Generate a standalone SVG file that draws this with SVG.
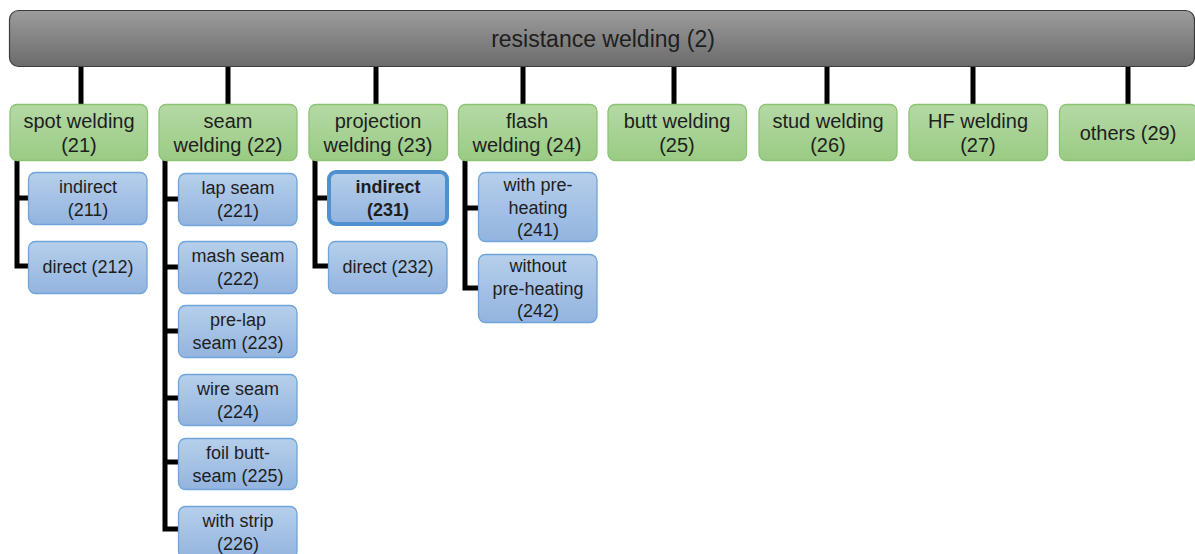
<svg xmlns="http://www.w3.org/2000/svg" width="1195" height="554" viewBox="0 0 1195 554">
<defs>
<linearGradient id="gRoot" x1="0" y1="0" x2="0" y2="1"><stop offset="0" stop-color="#9c9c9c"/><stop offset="1" stop-color="#6b6b6b"/></linearGradient>
<linearGradient id="gGreen" x1="0" y1="0" x2="0" y2="1"><stop offset="0" stop-color="#b5d9a5"/><stop offset="1" stop-color="#9acb84"/></linearGradient>
<linearGradient id="gBlue" x1="0" y1="0" x2="0" y2="1"><stop offset="0" stop-color="#b6cfeb"/><stop offset="1" stop-color="#93b4df"/></linearGradient>
</defs>
<style>
text{font-family:"Liberation Sans",Arial,sans-serif;fill:#1e1e1e;text-anchor:middle}
.root{fill:url(#gRoot);stroke:#3c3c3c;stroke-width:1.2}
.g{fill:url(#gGreen);stroke:#8cc476;stroke-width:1.3}
.b{fill:url(#gBlue);stroke:#6fa5d9;stroke-width:1.3}
.sel{fill:url(#gBlue);stroke:#4f91ce;stroke-width:4}
.tr{font-size:23px}
.tg{font-size:20px}
.tb{font-size:18px}
.bold{font-weight:bold}
.c{fill:none;stroke:#000;stroke-width:5;stroke-linejoin:miter}
</style>
<g id="connectors">
<path class="c" d="M81,67V104M228,67V104M376,67V104M523,67V104M674,67V104M827,67V104M973,67V104M1128,67V104"/>
<path class="c" d="M17,160V266H29M17,198H29"/>
<path class="c" d="M165,160V529H179M165,199H179M165,267H179M165,331H179M165,398H179M165,462H179"/>
<path class="c" d="M315,160V266H329M315,198H329"/>
<path class="c" d="M465,160V288H479M465,208H479"/>
</g>
<g id="n2"><rect class="root" x="9.5" y="10.5" width="1185" height="56" rx="9"/><text class="tr" x="603" y="47">resistance welding (2)</text></g>
<g id="n21"><rect class="g" x="10" y="104.5" width="137.5" height="56" rx="7"/><text class="tg" x="79" y="128">spot welding</text><text class="tg" x="79" y="152">(21)</text></g>
<g id="n22"><rect class="g" x="159" y="104.5" width="138" height="56" rx="7"/><text class="tg" x="228" y="128">seam</text><text class="tg" x="228" y="152">welding (22)</text></g>
<g id="n23"><rect class="g" x="309" y="104.5" width="138.5" height="56" rx="7"/><text class="tg" x="378" y="128">projection</text><text class="tg" x="378" y="152">welding (23)</text></g>
<g id="n24"><rect class="g" x="458.5" y="104.5" width="138.5" height="56" rx="7"/><text class="tg" x="527" y="128">flash</text><text class="tg" x="527" y="152">welding (24)</text></g>
<g id="n25"><rect class="g" x="608" y="104.5" width="138.5" height="56" rx="7"/><text class="tg" x="677" y="128">butt welding</text><text class="tg" x="677" y="152">(25)</text></g>
<g id="n26"><rect class="g" x="759" y="104.5" width="138" height="56" rx="7"/><text class="tg" x="828" y="128">stud welding</text><text class="tg" x="828" y="152">(26)</text></g>
<g id="n27"><rect class="g" x="909" y="104.5" width="138.5" height="56" rx="7"/><text class="tg" x="978" y="128">HF welding</text><text class="tg" x="978" y="152">(27)</text></g>
<g id="n29"><rect class="g" x="1059.5" y="104.5" width="138" height="56" rx="7"/><text class="tg" x="1128" y="140">others (29)</text></g>
<g id="n211"><rect class="b" x="28.5" y="172.5" width="118.5" height="52" rx="7"/><text class="tb" x="88" y="193">indirect</text><text class="tb" x="88" y="216">(211)</text></g>
<g id="n212"><rect class="b" x="28.5" y="241.5" width="118.5" height="52" rx="7"/><text class="tb" x="88" y="273">direct (212)</text></g>
<g id="n221"><rect class="b" x="178.5" y="173.5" width="118.5" height="52" rx="7"/><text class="tb" x="238" y="194">lap seam</text><text class="tb" x="238" y="217">(221)</text></g>
<g id="n222"><rect class="b" x="178.5" y="241.5" width="118.5" height="52" rx="7"/><text class="tb" x="238" y="262">mash seam</text><text class="tb" x="238" y="285">(222)</text></g>
<g id="n223"><rect class="b" x="178.5" y="305.5" width="118.5" height="52" rx="7"/><text class="tb" x="238" y="326">pre-lap</text><text class="tb" x="238" y="349">seam (223)</text></g>
<g id="n224"><rect class="b" x="178.5" y="374.5" width="118.5" height="51" rx="7"/><text class="tb" x="238" y="395">wire seam</text><text class="tb" x="238" y="418">(224)</text></g>
<g id="n225"><rect class="b" x="178.5" y="438.5" width="118.5" height="51" rx="7"/><text class="tb" x="238" y="459">foil butt-</text><text class="tb" x="238" y="482">seam (225)</text></g>
<g id="n226"><rect class="b" x="178.5" y="506.5" width="118.5" height="52" rx="7"/><text class="tb" x="238" y="527">with strip</text><text class="tb" x="238" y="550">(226)</text></g>
<g id="n231"><rect class="sel" x="329" y="172" width="118" height="52" rx="7"/><text class="tb bold" x="388" y="193">indirect</text><text class="tb bold" x="388" y="216">(231)</text></g>
<g id="n232"><rect class="b" x="328.5" y="241.5" width="118.5" height="52" rx="7"/><text class="tb" x="388" y="273">direct (232)</text></g>
<g id="n241"><rect class="b" x="478.5" y="172.5" width="118.5" height="69" rx="7"/><text class="tb" x="538" y="191">with pre-</text><text class="tb" x="538" y="214">heating</text><text class="tb" x="538" y="236">(241)</text></g>
<g id="n242"><rect class="b" x="478.5" y="254.5" width="118.5" height="68" rx="7"/><text class="tb" x="538" y="272">without</text><text class="tb" x="538" y="295">pre-heating</text><text class="tb" x="538" y="317">(242)</text></g>
</svg>
